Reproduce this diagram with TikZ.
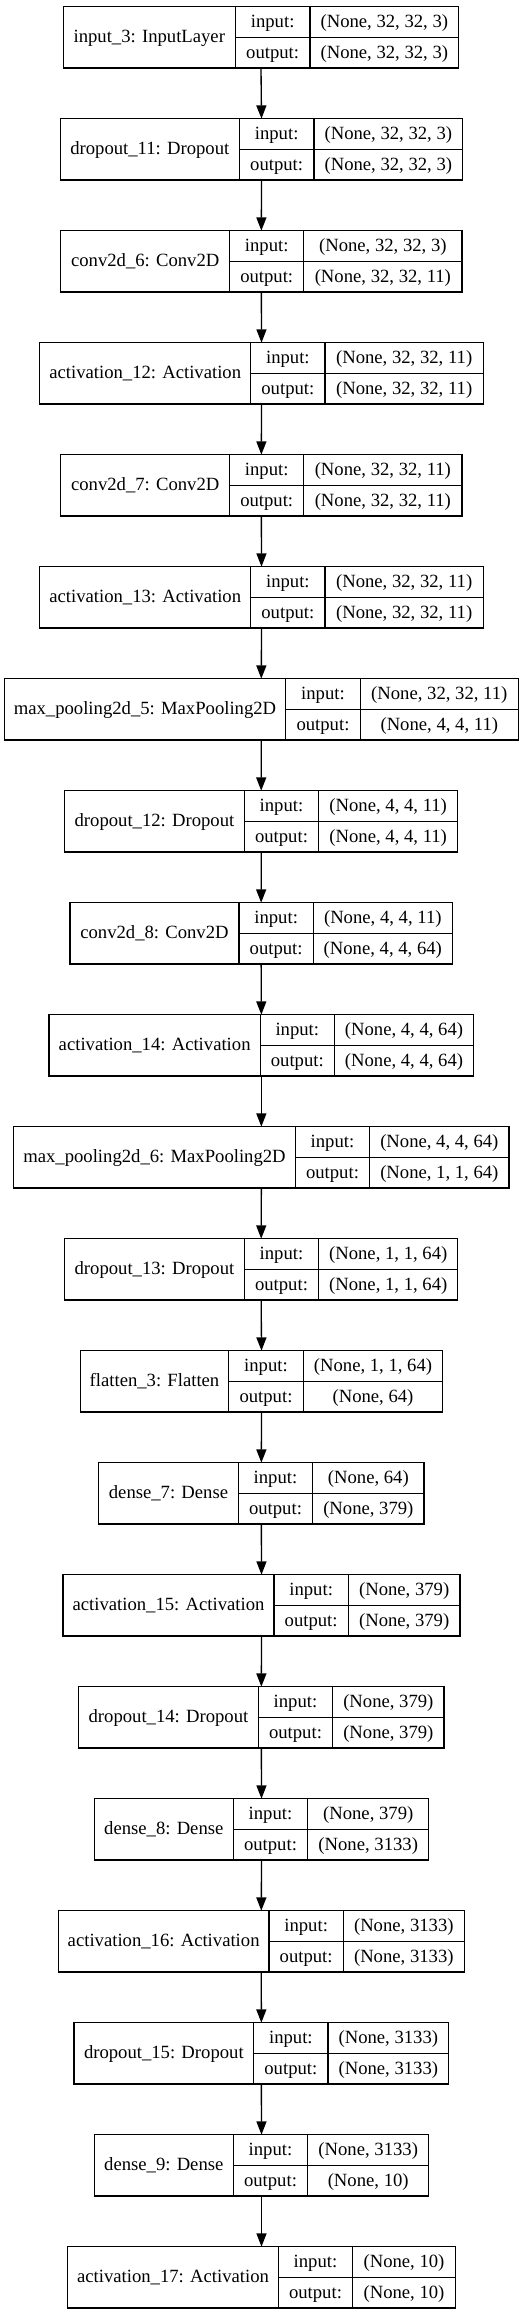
\documentclass[tikz,border=0pt]{standalone}
\usepackage{fontspec}
\setmainfont{Liberation Serif}
\usetikzlibrary{arrows.meta}

\begin{document}
\begin{tikzpicture}[x=0.75pt,y=-0.75pt,->,>={Triangle[length=10pt,width=7.5pt]},
    line width=1pt,font=\fontsize{14}{16}\selectfont,
    layer node/.style={rectangle,inner sep=0pt,outer sep=0pt,minimum height=46pt},
    field node/.style={rectangle,draw,inner sep=0pt,outer sep=0pt,text height=10.5pt,text depth=2.5pt}]
  \useasboundingbox (0,0) rectangle (525,2315);
  % one box per layer: left edge, two dividers, right edge
  \foreach \k/\lab/\L/\a/\b/\R/\vin/\vout in {
      1/{input\_3: InputLayer}/63.3/235.3/310/458.7/{(None, 32, 32, 3)}/{(None, 32, 32, 3)},
      2/{dropout\_11: Dropout}/60.3/239.3/314/462.7/{(None, 32, 32, 3)}/{(None, 32, 32, 3)},
      3/{conv2d\_6: Conv2D}/60.7/229.7/303.7/462/{(None, 32, 32, 3)}/{(None, 32, 32, 11)},
      4/{activation\_12: Activation}/39.7/250.7/325/483.3/{(None, 32, 32, 11)}/{(None, 32, 32, 11)},
      5/{conv2d\_7: Conv2D}/60.7/229.7/303.7/462/{(None, 32, 32, 11)}/{(None, 32, 32, 11)},
      6/{activation\_13: Activation}/39.7/250.7/325/483.3/{(None, 32, 32, 11)}/{(None, 32, 32, 11)},
      7/{max\_pooling2d\_5: MaxPooling2D}/4.3/285.7/360.3/518.3/{(None, 32, 32, 11)}/{(None, 4, 4, 11)},
      8/{dropout\_12: Dropout}/64.7/244.3/318.7/457.7/{(None, 4, 4, 11)}/{(None, 4, 4, 11)},
      9/{conv2d\_8: Conv2D}/70/239/313.3/452.3/{(None, 4, 4, 11)}/{(None, 4, 4, 64)},
      10/{activation\_14: Activation}/49/260.3/334.3/473.7/{(None, 4, 4, 64)}/{(None, 4, 4, 64)},
      11/{max\_pooling2d\_6: MaxPooling2D}/13.7/295.3/369.7/509/{(None, 4, 4, 64)}/{(None, 1, 1, 64)},
      12/{dropout\_13: Dropout}/64.7/244.3/318.7/457.7/{(None, 1, 1, 64)}/{(None, 1, 1, 64)},
      13/{flatten\_3: Flatten}/80.3/228.7/303.3/442.7/{(None, 1, 1, 64)}/{(None, 64)},
      14/{dense\_7: Dense}/98.7/238.3/312.7/424/{(None, 64)}/{(None, 379)},
      15/{activation\_15: Activation}/63/274/348.3/460/{(None, 379)}/{(None, 379)},
      16/{dropout\_14: Dropout}/78.7/258.3/332.7/444/{(None, 379)}/{(None, 379)},
      17/{dense\_8: Dense}/94.3/233.3/307.7/428.7/{(None, 379)}/{(None, 3133)},
      18/{activation\_16: Activation}/58.3/269/343.3/464.3/{(None, 3133)}/{(None, 3133)},
      19/{dropout\_15: Dropout}/74/253.7/328/448.7/{(None, 3133)}/{(None, 3133)},
      20/{dense\_9: Dense}/94.3/233.3/307.7/428.7/{(None, 3133)}/{(None, 10)},
      21/{activation\_17: Activation}/67.7/278.3/352.7/455.3/{(None, 10)}/{(None, 10)}}{
    \pgfmathsetmacro\t{6.7+112*(\k-1)}
    \node[layer node,minimum width={(\R-\L)*0.75pt}] (b\k) at ({(\L+\R)/2},{\t+30.65}) {};
    \node[field node,minimum width={(\a-\L)*0.75pt},minimum height=46pt,anchor=west] (n\k) at (b\k.west) {\lab};
    \node[field node,minimum width={(\b-\a)*0.75pt},minimum height=23pt,anchor=north west] (i\k) at (n\k.north east) {input:};
    \node[field node,minimum width={(\b-\a)*0.75pt},minimum height=23pt,anchor=south west] (o\k) at (n\k.south east) {output:};
    \node[field node,minimum width={(\R-\b)*0.75pt},minimum height=23pt,anchor=north west] (vi\k) at (i\k.north east) {\vin};
    \node[field node,minimum width={(\R-\b)*0.75pt},minimum height=23pt,anchor=south west] (vo\k) at (o\k.south east) {\vout};
  }
  \foreach \k [count=\n from 2] in {1,...,20}
    \draw (b\k.south) -- (b\n.north);
\end{tikzpicture}
\end{document}
